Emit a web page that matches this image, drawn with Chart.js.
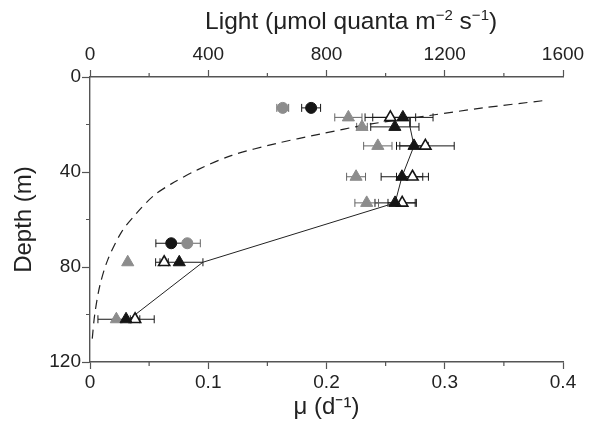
<!DOCTYPE html>
<html>
<head>
<meta charset="utf-8">
<script src="https://cdn.jsdelivr.net/npm/chart.js@4"></script>
<style>
body { margin: 0; background: #fff; }
#chart-box { width: 603px; height: 426px; }
</style>
</head>
<body>
<div id="chart-box"><canvas id="growth-chart" width="603" height="426"></canvas></div>
<script>
// depths (m) and growth rates (d-1)
const circleDepths = [13, 70];
const grayCircleMu = [0.163, 0.0823];
const grayCircleErr = [0.005, 0.011];
const blackCircleMu = [0.187, 0.0687];
const blackCircleErr = [0.008, 0.013];

const grayTriDepths = [17, 21, 29, 42, 53, 78, 102];
const grayTriMu = [0.2185, 0.230, 0.2434, 0.225, 0.234, 0.0319, 0.0223];
const grayTriErr = [0.0115, 0.0045, 0.012, 0.008, 0.010, 0, 0];

const openTriDepths = [17, 29, 42, 53, 78, 102];
const openTriMu = [0.254, 0.2836, 0.2727, 0.264, 0.0627, 0.0381];
const openTriErr = [0.0214, 0.0244, 0.0135, 0.012, 0.0035, 0.004];

const blackTriDepths = [17, 21, 29, 42, 53, 78, 102];
const blackTriMu = [0.2646, 0.2578, 0.274, 0.2638, 0.258, 0.0755, 0.0305];
const blackTriErr = [0.0255, 0.0204, 0.012, 0.0176, 0.017, 0.020, 0.0238];

// solid line
const lineDepths = [17, 21, 29, 42, 53, 78, 102];
const lineMu = [0.2706, 0.2706, 0.274, 0.2638, 0.258, 0.0954, 0.0332];

// dashed light profile (top axis)
const lightDepths = [10, 13, 16, 20, 24, 28, 33, 39, 45, 50, 57, 65, 77, 88, 100, 111];
const lightValues = [1530, 1330, 1160, 940, 780, 630, 480, 365, 275, 215, 160, 108, 60, 33, 16, 7];

const minorDepthTicks = [20, 60, 100];
const minorMuTicks = [0.05, 0.15, 0.25, 0.35];
const minorLightTicks = [200, 600, 1000, 1400];

// top title pieces: [text, superscript?]
const lightTitle = [['Light (μmol quanta m', false], ['−2', true], [' s', false], ['−1', true], [')', false]];

const GRAY = '#8c8c8c';
const BLACK = '#151515';
const AXIS = '#555';
const FONT = 'Liberation Sans, Arial, sans-serif';

function pts(xs, ys) {
    return xs.map((v, i) => ({ x: v, y: ys[i] }));
}

const errorBars = {
    id: 'errorBars',
    beforeDatasetsDraw(chart) {
        const ctx = chart.ctx;
        const xs = chart.scales.x, ys = chart.scales.y;
        chart.data.datasets.forEach(ds => {
            if (!ds.errors) return;
            ctx.save();
            ctx.strokeStyle = ds.errorColor;
            ctx.lineWidth = 1;
            ds.data.forEach((p, j) => {
                const e = ds.errors[j];
                if (!e) return;
                const x1 = xs.getPixelForValue(p.x - e);
                const x2 = xs.getPixelForValue(p.x + e);
                const y = ys.getPixelForValue(p.y);
                ctx.beginPath();
                ctx.moveTo(x1, y); ctx.lineTo(x2, y);
                ctx.moveTo(x1, y - 4); ctx.lineTo(x1, y + 4);
                ctx.moveTo(x2, y - 4); ctx.lineTo(x2, y + 4);
                ctx.stroke();
            });
            ctx.restore();
        });
    }
};

const minorTicks = {
    id: 'minorTicks',
    afterDraw(chart) {
        const ctx = chart.ctx;
        const { x, x2, y } = chart.scales;
        const area = chart.chartArea;
        ctx.save();
        ctx.strokeStyle = AXIS;
        ctx.lineWidth = 1.2;
        ctx.beginPath();
        minorDepthTicks.forEach(v => {
            const py = y.getPixelForValue(v);
            ctx.moveTo(area.left, py); ctx.lineTo(area.left - 4, py);
        });
        minorMuTicks.forEach(v => {
            const px = x.getPixelForValue(v);
            ctx.moveTo(px, area.bottom); ctx.lineTo(px, area.bottom + 4);
        });
        minorLightTicks.forEach(v => {
            const px = x2.getPixelForValue(v);
            ctx.moveTo(px, area.top); ctx.lineTo(px, area.top - 4);
        });
        ctx.stroke();
        ctx.restore();
    }
};

// top axis title with real superscripts, sitting a bit right of centre like the original
const topTitle = {
    id: 'topTitle',
    afterDraw(chart) {
        const ctx = chart.ctx;
        const area = chart.chartArea;
        const normal = '24.5px ' + FONT;
        const small = '15px ' + FONT;
        ctx.save();
        ctx.fillStyle = '#222';
        ctx.textBaseline = 'alphabetic';
        let total = 0;
        lightTitle.forEach(([t, sup]) => {
            ctx.font = sup ? small : normal;
            total += ctx.measureText(t).width;
        });
        let cx = area.left + (area.right - area.left) * 0.552 - total / 2;
        const base = 29;
        lightTitle.forEach(([t, sup]) => {
            ctx.font = sup ? small : normal;
            ctx.fillText(t, cx, sup ? base - 9 : base);
            cx += ctx.measureText(t).width;
        });
        ctx.restore();
    }
};

const tickFont = { family: FONT, size: 19 };
const titleFont = { family: FONT, size: 24 };

const ctx = document.getElementById('growth-chart').getContext('2d');
const chart = new Chart(ctx, {
    type: 'scatter',
    data: {
        datasets: [
            {
                label: 'black triangles',
                data: pts(blackTriMu, blackTriDepths),
                errors: blackTriErr, errorColor: BLACK,
                pointStyle: 'triangle', pointRadius: 7,
                backgroundColor: BLACK, borderColor: BLACK, borderWidth: 1,
                order: 1
            },
            {
                label: 'open triangles',
                data: pts(openTriMu, openTriDepths),
                errors: openTriErr, errorColor: BLACK,
                pointStyle: 'triangle', pointRadius: 6.5,
                backgroundColor: '#fff', borderColor: BLACK, borderWidth: 1.6,
                order: 2
            },
            {
                label: 'black circles',
                data: pts(blackCircleMu, circleDepths),
                errors: blackCircleErr, errorColor: BLACK,
                pointStyle: 'circle', pointRadius: 5.5,
                backgroundColor: BLACK, borderColor: BLACK, borderWidth: 1,
                order: 3
            },
            {
                label: 'gray triangles',
                data: pts(grayTriMu, grayTriDepths),
                errors: grayTriErr, errorColor: '#666',
                pointStyle: 'triangle', pointRadius: 7,
                backgroundColor: GRAY, borderColor: GRAY, borderWidth: 1,
                order: 4
            },
            {
                label: 'gray circles',
                data: pts(grayCircleMu, circleDepths),
                errors: grayCircleErr, errorColor: '#666',
                pointStyle: 'circle', pointRadius: 5.5,
                backgroundColor: GRAY, borderColor: GRAY, borderWidth: 1,
                order: 5
            },
            {
                label: 'model',
                data: pts(lineMu, lineDepths),
                showLine: true, pointRadius: 0,
                borderColor: '#222', borderWidth: 1,
                order: 6
            },
            {
                label: 'light',
                data: pts(lightValues, lightDepths),
                xAxisID: 'x2',
                showLine: true, pointRadius: 0, tension: 0.3,
                borderColor: '#222', borderWidth: 1.2, borderDash: [9, 6],
                order: 7
            }
        ]
    },
    options: {
        responsive: false,
        animation: false,
        layout: { padding: { left: 0, right: 40, top: 0, bottom: 0 } },
        plugins: {
            legend: { display: false },
            tooltip: { enabled: false }
        },
        scales: {
            x: {
                type: 'linear', position: 'bottom',
                min: 0, max: 0.4,
                ticks: { stepSize: 0.1, color: '#222', font: tickFont, padding: 2, maxRotation: 0,
                         callback: v => String(Math.round(v * 10) / 10) },
                grid: { drawOnChartArea: false, tickLength: 7, tickColor: AXIS, tickWidth: 1.2 },
                border: { color: AXIS, width: 1.4 },
                title: { display: true, text: 'μ (d⁻¹)', color: '#222', font: titleFont, padding: { top: 0, bottom: 4 } },
                afterFit(scale) { scale.height = 64; }
            },
            x2: {
                type: 'linear', position: 'top',
                min: 0, max: 1600,
                ticks: { stepSize: 400, color: '#222', font: tickFont, padding: 4, maxRotation: 0,
                         callback: v => String(v) },
                grid: { drawOnChartArea: false, tickLength: 7, tickColor: AXIS, tickWidth: 1.2 },
                border: { color: AXIS, width: 1.4 },
                title: { display: false },
                afterFit(scale) { scale.height = 77; }
            },
            y: {
                type: 'linear', reverse: true,
                min: 0, max: 120,
                ticks: { stepSize: 40, color: '#222', font: tickFont, padding: 1 },
                grid: { drawOnChartArea: false, tickLength: 8, tickColor: AXIS, tickWidth: 1.2 },
                border: { color: AXIS, width: 1.4 },
                title: { display: true, text: 'Depth (m)', color: '#222', font: titleFont, padding: { top: 10, bottom: 0 } },
                afterFit(scale) { scale.width = 90; }
            }
        }
    },
    plugins: [errorBars, minorTicks, topTitle]
});
</script>
</body>
</html>
